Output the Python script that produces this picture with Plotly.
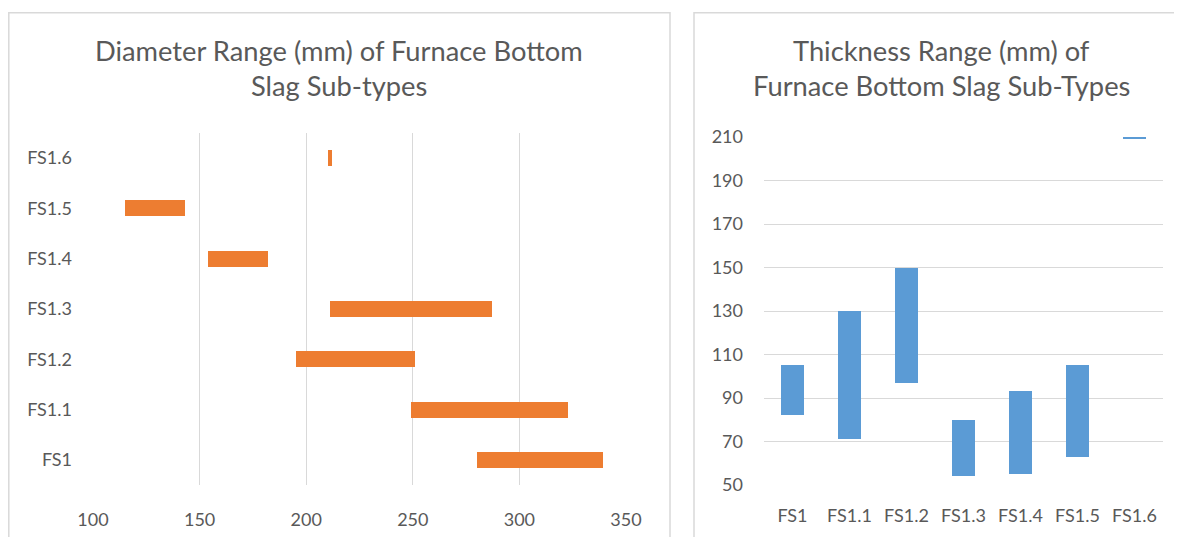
import plotly.graph_objects as go

# ---- data ----
categories = ["FS1", "FS1.1", "FS1.2", "FS1.3", "FS1.4", "FS1.5", "FS1.6"]
diameter_min = [280, 249, 195, 211, 154, 115, 210]
diameter_max = [339, 323, 251, 287, 182, 143, 212]
thickness_min = [82, 71, 97, 54, 55, 63, 209]
thickness_max = [105, 130, 150, 80, 93, 105, 211]

diam_ticks = [100, 150, 200, 250, 300, 350]
thick_ticks = [50, 70, 90, 110, 130, 150, 170, 190, 210]

W, H = 1182, 537
OFF = 8  # page body margin
ORANGE = "#ED7D31"
BLUE = "#5B9BD5"
GRID = "#D9D9D9"
TXT = "#595959"
FONT = "Lato, 'Open Sans', sans-serif"
TITLE_SIZE = 27.3

def px(x):
    return (x - OFF) / W

def py(y):
    return 1 - (y - OFF) / H

fig = go.Figure()

fig.add_trace(go.Bar(
    y=categories,
    x=[b - a for a, b in zip(diameter_min, diameter_max)],
    base=diameter_min,
    orientation="h",
    width=0.32,
    marker=dict(color=ORANGE, line=dict(width=0)),
    xaxis="x", yaxis="y",
    showlegend=False,
    hoverinfo="skip",
))

fig.add_trace(go.Bar(
    x=categories,
    y=[b - a for a, b in zip(thickness_min, thickness_max)],
    base=thickness_min,
    width=0.39,
    marker=dict(color=BLUE, line=dict(width=0)),
    xaxis="x2", yaxis="y2",
    showlegend=False,
    hoverinfo="skip",
))

tickfont = dict(family=FONT, size=18, color=TXT)

fig.update_layout(
    template="none",
    width=W, height=H,
    autosize=False,
    margin=dict(l=0, r=0, t=0, b=0, pad=0),
    paper_bgcolor="white",
    plot_bgcolor="white",
    font=dict(family=FONT, color=TXT),
    xaxis=dict(
        domain=[px(93), px(626)],
        range=[100, 350],
        tickvals=diam_ticks,
        ticktext=[str(v) for v in diam_ticks],
        showgrid=True, gridcolor=GRID, gridwidth=1,
        zeroline=False, showline=False,
        ticks="", ticklabelstandoff=22,
        tickfont=tickfont,
        anchor="y",
        automargin=False,
        fixedrange=True,
    ),
    yaxis=dict(
        domain=[py(485), py(133)],
        type="category",
        categoryorder="array",
        categoryarray=categories,
        range=[-0.5, 6.5],
        showgrid=False, zeroline=False, showline=False,
        ticks="", ticklabelstandoff=20,
        tickfont=tickfont,
        anchor="x",
        automargin=False,
        fixedrange=True,
    ),
    xaxis2=dict(
        domain=[px(764), px(1163)],
        type="category",
        categoryorder="array",
        categoryarray=categories,
        range=[-0.5, 6.5],
        showgrid=False, zeroline=False, showline=False,
        ticks="", ticklabelstandoff=18,
        tickfont=tickfont,
        anchor="y2",
        automargin=False,
        fixedrange=True,
    ),
    yaxis2=dict(
        domain=[py(485), py(137)],
        range=[50, 210],
        tickvals=thick_ticks,
        ticktext=[str(v) for v in thick_ticks],
        showgrid=True, gridcolor=GRID, gridwidth=1,
        zeroline=False, showline=False,
        ticks="", ticklabelstandoff=20,
        tickfont=tickfont,
        anchor="x2",
        automargin=False,
        fixedrange=True,
    ),
    bargap=0,
    shapes=[
        dict(type="rect", xref="paper", yref="paper",
             x0=px(8.8), x1=px(670), y0=py(560), y1=py(12.8),
             line=dict(color=GRID, width=1.5), fillcolor="rgba(0,0,0,0)", layer="below"),
        dict(type="rect", xref="paper", yref="paper",
             x0=px(694), x1=px(1200), y0=py(560), y1=py(12.8),
             line=dict(color=GRID, width=1.5), fillcolor="rgba(0,0,0,0)", layer="below"),
    ],
    annotations=[
        dict(text="Diameter Range (mm) of Furnace Bottom", x=px(339), y=py(50),
             xref="paper", yref="paper", showarrow=False, xanchor="center", yanchor="middle",
             font=dict(family=FONT, size=TITLE_SIZE, color=TXT)),
        dict(text="Slag Sub-types", x=px(339), y=py(85),
             xref="paper", yref="paper", showarrow=False, xanchor="center", yanchor="middle",
             font=dict(family=FONT, size=TITLE_SIZE, color=TXT)),
        dict(text="Thickness Range (mm) of", x=px(941), y=py(50),
             xref="paper", yref="paper", showarrow=False, xanchor="center", yanchor="middle",
             font=dict(family=FONT, size=TITLE_SIZE, color=TXT)),
        dict(text="Furnace Bottom Slag Sub-Types", x=px(941), y=py(85),
             xref="paper", yref="paper", showarrow=False, xanchor="center", yanchor="middle",
             font=dict(family=FONT, size=TITLE_SIZE, color=TXT)),
    ],
)

fig.write_html("out.html", config={"displayModeBar": False})
